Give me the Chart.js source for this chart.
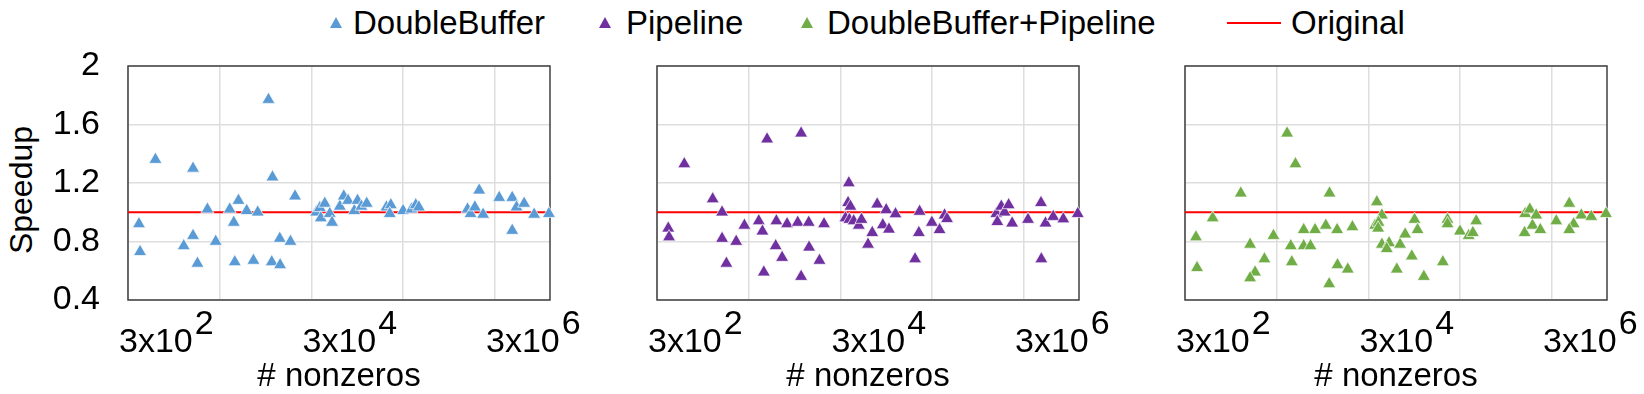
<!DOCTYPE html>
<html>
<head>
<meta charset="utf-8">
<script src="https://cdn.jsdelivr.net/npm/chart.js@4.4.0/dist/chart.umd.min.js"></script>
<style>
  body { margin:0; background:#fff; width:1644px; height:394px; overflow:hidden; position:relative;
         font-family:"Liberation Sans", Arial, sans-serif; }
  canvas { position:absolute; top:0; }
  .leg { position:absolute; top:4px; height:38px; line-height:38px; font-size:33px; color:#000; white-space:nowrap; }
  .tri { position:absolute; top:17px; width:0; height:0; border-left:6px solid transparent; border-right:6px solid transparent; border-bottom:11px solid #000; }
  .line { position:absolute; top:22px; height:2px; background:#ff0000; }
  #ytitle { position:absolute; left:21px; top:190px; font-size:32px; line-height:32px; color:#000; white-space:nowrap;
            transform:translate(-50%, -50%) rotate(-90deg); }
</style>
</head>
<body>
<div id="legend"></div>
<div id="ytitle">Speedup</div>
<canvas id="c1" width="620" height="394" style="left:0px"></canvas>
<canvas id="c2" width="620" height="394" style="left:529px"></canvas>
<canvas id="c3" width="620" height="394" style="left:1057px"></canvas>
<script>
// axes
const xMin = 300;
const xMax = 11940000;
const xGridValues = [300, 3000, 30000, 300000, 3000000];
const xLabelValues = [300, 30000, 3000000];
const xLabelBase = '3x10';
const xLabelExps = ['2', '4', '6'];
const yTicks = [0.4, 0.8, 1.2, 1.6, 2];
const yTickLabels = ['0.4', '0.8', '1.2', '1.6', '2'];
const originalSpeedup = 1;

const seriesNames = ['DoubleBuffer', 'Pipeline', 'DoubleBuffer+Pipeline', 'Original'];
const seriesColors = ['#5b9bd5', '#7030a0', '#70ad47', '#ff0000'];

// DoubleBuffer
const dbX = [395, 406, 597, 1215, 1535, 1535, 1714, 2202, 2712, 3855, 4266, 4800, 4375, 5900, 7780, 6990, 10190, 11270, 11070, 13650, 13530, 17700, 19860,
  33800, 37000, 37900, 41900, 47500, 50300, 61100, 67500, 75200, 87900, 95300, 105000, 120000,
  197000, 220000, 214000, 299000, 369000, 411000, 444000,
  1507000, 1626000, 1812000, 2019000, 2229000, 3335000, 4625000, 5154000, 6240000, 4625000, 8020000, 11620000];
const dbY = [0.92, 0.73, 1.36, 0.77, 0.84, 1.30, 0.65, 1.02, 0.80, 1.02, 0.93, 1.08, 0.66, 1.01, 1.00, 0.67, 1.77, 1.24, 0.66, 0.64, 0.82, 0.80, 1.11,
  1.00, 1.03, 0.96, 1.06, 0.99, 0.93, 1.04, 1.11, 1.08, 1.01, 1.08, 1.04, 1.06,
  1.035, 1.05, 0.99, 1.01, 1.02, 1.05, 1.035,
  1.02, 0.99, 1.035, 1.15, 0.985, 1.10, 1.10, 1.035, 1.06, 0.875, 0.985, 0.99];

// Pipeline
const pipeX = [398, 406, 595, 1214, 1536, 1536, 1712, 2190, 2690, 3860, 4230, 4755, 4380, 5900, 6000, 6930, 7850, 10260, 11170, 11170, 13520, 13650, 17700, 19850,
  37000, 36300, 38500, 34000, 37500, 41800, 47500, 50800,
  59900, 66600, 75400, 86800, 94500, 101300, 119400,
  195000, 214500, 218500, 297300, 360700, 409000, 435000,
  1500000, 1538000, 1698000, 1845000, 2042000, 2230000, 3320000, 4600000, 4640000, 5150000, 6250000, 8050000, 11570000];
const pipeY = [0.89, 0.83, 1.33, 1.09, 1.00, 0.82, 0.65, 0.80, 0.91, 0.94, 0.87, 1.50, 0.59, 0.77, 0.94, 0.69, 0.92, 0.93, 1.54, 0.56, 0.93, 0.76, 0.67, 0.92,
  1.20, 1.065, 1.04, 0.96, 0.95, 0.94, 0.91, 0.95,
  0.78, 0.86, 1.055, 0.913, 1.016, 0.883, 0.988,
  0.68, 0.86, 1.005, 0.93, 0.88, 0.98, 0.955,
  0.99, 0.935, 1.04, 1.00, 1.05, 0.925, 0.95, 1.065, 0.68, 0.925, 0.97, 0.953, 0.99];

// DoubleBuffer+Pipeline
const bothX = [395, 406, 601, 1217, 1537, 1741, 1537, 2203, 2764, 3890, 4265, 4380, 4800, 5900, 5900, 7000, 7850, 10280, 11280, 11180, 13650, 13780, 17850, 20050,
  37000, 42000, 35400, 38600, 38200, 42000, 50300, 47500, 61100, 66300,
  75300, 89000, 95300, 102800, 120400, 194000, 218000, 218000, 298000, 371000, 412000, 448000,
  1510000, 1530000, 1720000, 1840000, 2020000, 2240000, 3340000, 4630000, 5170000, 4630000, 6270000, 8040000, 11640000];
const bothY = [0.83, 0.62, 0.96, 1.13, 0.78, 0.59, 0.55, 0.68, 0.84, 1.54, 0.77, 0.66, 1.33, 0.88, 0.77, 0.77, 0.88, 0.91, 1.13, 0.51, 0.88, 0.64, 0.61, 0.90,
  1.07, 0.98, 0.91, 0.93, 0.89, 0.78, 0.79, 0.75, 0.61, 0.78,
  0.85, 0.70, 0.95, 0.88, 0.56, 0.66, 0.95, 0.92, 0.87, 0.84, 0.86, 0.94,
  0.86, 0.99, 1.02, 0.91, 0.98, 0.88, 0.94, 1.06, 0.92, 0.88, 0.98, 0.97, 0.99];

const fontFamily = '"Liberation Sans", Arial, sans-serif';

// legend (html)
const legend = document.getElementById('legend');
const legMarkX = [336, 605, 807];
const legTextX = [353, 626, 827, 1291];
seriesNames.forEach((name, i) => {
  if (i < 3) {
    let t = document.createElement('div');
    t.className = 'tri';
    t.style.left = (legMarkX[i] - 6) + 'px';
    t.style.borderBottomColor = seriesColors[i];
    legend.appendChild(t);
  } else {
    let l = document.createElement('div');
    l.className = 'line';
    l.style.left = '1227px';
    l.style.width = '54px';
    legend.appendChild(l);
  }
  let s = document.createElement('div');
  s.className = 'leg';
  s.style.left = legTextX[i] + 'px';
  s.textContent = name;
  legend.appendChild(s);
});

// plot frame
const boxPlugin = {
  id: 'box',
  beforeDatasetsDraw(chart) {
    const {ctx, chartArea: a} = chart;
    ctx.save();
    ctx.strokeStyle = '#404040';
    ctx.lineWidth = 1.5;
    ctx.strokeRect(a.left, a.top, a.right - a.left, a.bottom - a.top);
    ctx.restore();
  }
};

// 3x10^n labels with superscripts
const expLabels = {
  id: 'expLabels',
  afterDraw(chart) {
    const s = chart.scales.x;
    const ctx = chart.ctx;
    ctx.save();
    ctx.font = '34px ' + fontFamily;
    ctx.fillStyle = '#000';
    ctx.textAlign = 'left';
    ctx.textBaseline = 'alphabetic';
    xLabelValues.forEach((v, i) => {
      const x = s.getPixelForValue(v) - 9;
      ctx.fillText(xLabelBase, x, 352);
      const w = ctx.measureText(xLabelBase).width;
      ctx.fillText(xLabelExps[i], x + w + 2, 334);
    });
    ctx.restore();
  }
};

function makePanel(id, xs, ys, color, showY) {
  const pts = xs.map((x, i) => ({x: x, y: ys[i]}));
  return new Chart(document.getElementById(id), {
    type: 'scatter',
    data: {
      datasets: [{
        data: pts,
        pointStyle: 'triangle',
        pointRadius: 7.5,
        backgroundColor: color,
        borderColor: 'rgba(255,255,255,0.7)',
        borderWidth: 1,
        order: 0,
        clip: false,
      }, {
        data: [{x: xMin, y: originalSpeedup}, {x: xMax, y: originalSpeedup}],
        showLine: true,
        borderColor: '#ff0000',
        borderWidth: 2,
        pointRadius: 0,
        order: 1,
      }]
    },
    options: {
      responsive: false,
      animation: false,
      devicePixelRatio: 1,
      layout: { padding: { top: 66, right: 70, bottom: 0, left: 0 } },
      plugins: { legend: { display: false }, tooltip: { enabled: false } },
      scales: {
        x: {
          type: 'logarithmic',
          min: xMin,
          max: xMax,
          afterBuildTicks: (s) => { s.ticks = xGridValues.map(v => ({value: v})); },
          afterFit: (s) => { s.height = 94; },
          ticks: { display: false },
          grid: { color: '#dedede', lineWidth: 1.5, drawTicks: false },
          border: { display: false },
          title: { display: true, text: '# nonzeros', color: '#000', font: { size: 33, family: fontFamily }, padding: { top: 0, bottom: -3 } },
        },
        y: {
          min: 0.4,
          max: 2,
          afterBuildTicks: (s) => { s.ticks = yTicks.map(v => ({value: v})); },
          afterFit: (s) => { s.width = 128; },
          ticks: { display: showY, padding: 28, color: '#000', font: { size: 34, family: fontFamily },
                   callback: (v, i) => yTickLabels[i] },
          grid: { color: '#dedede', lineWidth: 1.5, drawTicks: false },
          border: { display: false },
        }
      }
    },
    plugins: [boxPlugin, expLabels]
  });
}

makePanel('c1', dbX, dbY, seriesColors[0], true);
makePanel('c2', pipeX, pipeY, seriesColors[1], false);
makePanel('c3', bothX, bothY, seriesColors[2], false);
</script>
</body>
</html>
